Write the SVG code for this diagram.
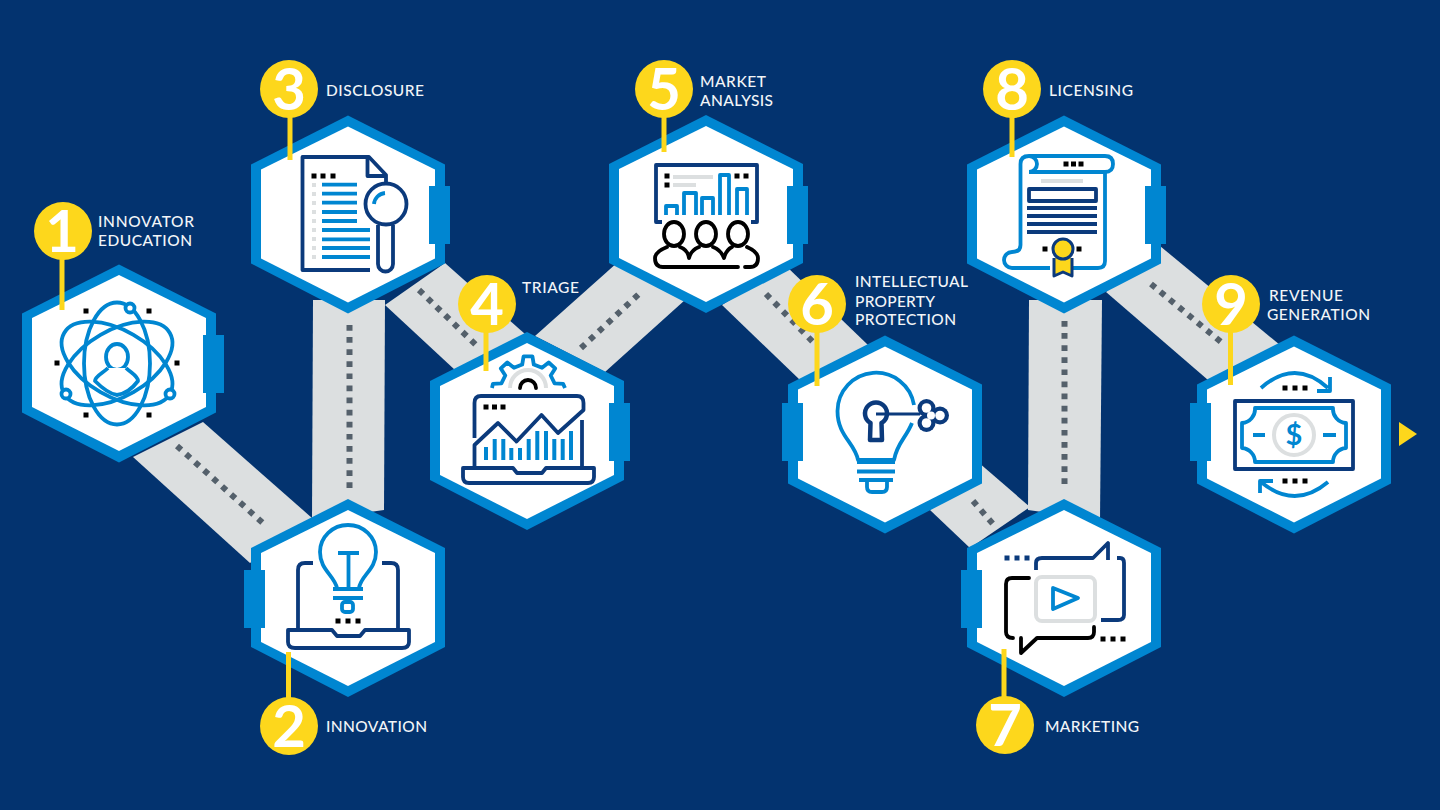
<svg xmlns="http://www.w3.org/2000/svg" width="1440" height="810" viewBox="0 0 1440 810">
<style>
.lbl{font-family:"Lato","Liberation Sans",sans-serif;font-size:15.5px;font-weight:500;fill:#f2f5f8}
.num{font-family:"Lato","Liberation Sans",sans-serif;font-size:58px;font-weight:700;fill:#fff;text-anchor:middle}
.band{fill:#dcdfe0}
.dots{stroke:#54606b;stroke-width:6;stroke-dasharray:5.7 6.4;fill:none}
.pin{stroke:#fdd71c;stroke-width:5;fill:none}
.bub{fill:#fdd71c}
.ring{fill:#0086d1}
.tab{fill:#0086d1}
.in{fill:#fff}
.b{fill:none;stroke:#0086d1;stroke-width:3.8;stroke-linejoin:round}
.n{fill:none;stroke:#0b3a7c;stroke-width:3.8;stroke-linejoin:round}
.k{fill:none;stroke:#000;stroke-width:3.8;stroke-linejoin:round;stroke-linecap:round}
.g{fill:none;stroke:#dcdfe0;stroke-width:4}
.dk{fill:#000}
.gf{fill:#dcdfe0}
</style>
<defs>
<polygon id="hexo" points="0,-99 97,-50 97,49 0,99 -97,49 -97,-50"/>
<polygon id="hexi" points="0,-88 87,-45 87,44 0,88 -87,44 -87,-45"/>
<rect id="sq" x="-2.5" y="-2.5" width="5" height="5"/>
</defs>
<rect width="1440" height="810" fill="#03336f"/>
<g id="connectors">
<polygon class="band" points="203,422 312,518 250,563 133,457"/>
<polygon class="band" points="313,300 385,300 384,510 312,520"/>
<polygon class="band" points="445,263 525,334 455,370 385,305"/>
<polygon class="band" points="535,336 618,262 685,300 605,372"/>
<polygon class="band" points="785,265 868,345 800,380 722,305"/>
<polygon class="band" points="978,462 1030,507 970,548 930,510"/>
<polygon class="band" points="1029,300 1102,300 1100,520 1028,510"/>
<polygon class="band" points="1160,246 1280,345 1208,380 1106,292"/>
<path class="dots" d="M177 446L264 524"/>
<path class="dots" d="M349.500 325V493"/>
<path class="dots" d="M419 290L476 345"/>
<path class="dots" d="M581 348L640 293"/>
<path class="dots" d="M766 294L813 342"/>
<path class="dots" d="M973 501L993 524"/>
<path class="dots" d="M1064.500 321V490"/>
<path class="dots" d="M1151 284L1221 342"/>
</g>
<g id="node1">
<use href="#hexo" x="119" y="363.5" class="ring"/><use href="#hexi" x="119" y="363" class="in"/>
<rect class="tab" x="203" y="335" width="21" height="58"/>
<path class="pin" d="M62 250V310"/><circle class="bub" cx="63" cy="231" r="29"/>
<text class="num" x="62" y="252">1</text>
<text class="lbl" x="98" y="227" textLength="96">INNOVATOR</text><text class="lbl" x="98" y="246" textLength="94">EDUCATION</text>
<g class="b"><ellipse cx="117" cy="363.500" rx="33" ry="61"/><ellipse cx="117" cy="363.500" rx="33" ry="61" transform="rotate(60 117 363.500)"/><ellipse cx="117" cy="363.500" rx="33" ry="61" transform="rotate(-60 117 363.500)"/>
<ellipse cx="117" cy="357" rx="11" ry="13" fill="#fff"/><path fill="#fff" d="M108 368C103 373 95 376 95 381C103 389 110 394 117 395C125 394 132 389 138 381C138 376 131 373 126 368"/>
<circle cx="130" cy="308" r="4.500" fill="#fff"/><circle cx="66" cy="394" r="4.500" fill="#fff"/><circle cx="170" cy="394" r="4.500" fill="#fff"/></g>
<g class="dk"><use href="#sq" x="86" y="311"/><use href="#sq" x="149" y="311"/><use href="#sq" x="57" y="363"/><use href="#sq" x="177" y="363"/><use href="#sq" x="86" y="415"/><use href="#sq" x="149" y="415"/></g>
</g>
<g id="node2">
<use href="#hexo" x="348" y="598" class="ring"/><use href="#hexi" x="348" y="598" class="in"/>
<rect class="tab" x="244" y="570" width="21" height="58"/>
<path class="pin" d="M288.500 652V705"/><circle class="bub" cx="289" cy="726" r="29"/>
<text class="num" x="289" y="747">2</text>
<text class="lbl" x="326" y="732" textLength="101">INNOVATION</text>
<g class="b"><path d="M337 588C334 575 320 570 320 552A28 27 0 1 1 376 552C376 570 361 575 359 588"/><path d="M338 553H359M348.500 553V588M333 589H363M333 598H363"/><rect x="342" y="602" width="11" height="10" rx="3"/></g>
<g class="n"><path d="M313 563H305Q298 563 298 570V630M382 563H391Q398 563 398 570V630"/><path d="M288 630H332L337 636H360L365 630H409V642Q409 648 402 648H295Q288 648 288 642Z"/></g>
<g class="dk"><use href="#sq" x="338" y="621"/><use href="#sq" x="348" y="621"/><use href="#sq" x="358" y="621"/></g>
</g>
<g id="node3">
<use href="#hexo" x="348" y="214.500" class="ring"/><use href="#hexi" x="348" y="214.500" class="in"/>
<rect class="tab" x="429" y="186" width="21" height="58"/>
<path class="pin" d="M290 110V160"/><circle class="bub" cx="289" cy="89" r="29"/>
<text class="num" x="289" y="110">3</text>
<text class="lbl" x="326" y="96" textLength="98">DISCLOSURE</text>
<g class="n"><path d="M370 270H302.500V157H369L386 175V183"/><path d="M367.500 157V176H386"/><circle cx="386" cy="204" r="20.500"/><path d="M378 225V264A7.500 7.500 0 0 0 393 264V225"/></g>
<path class="b" d="M374 204A12 12 0 0 1 385 193"/>
<g class="b"><path d="M322 184.700H357M322 193.700H357M322 202.700H357M322 212H357M322 221H357M322 230H370M322 239.300H370M322 248H370M322 257H370"/></g>
<g class="gf"><rect x="312" y="183" width="4" height="4"/><rect x="312" y="192" width="4" height="4"/><rect x="312" y="201" width="4" height="4"/><rect x="312" y="210" width="4" height="4"/><rect x="312" y="219" width="4" height="4"/><rect x="312" y="228" width="4" height="4"/><rect x="312" y="237" width="4" height="4"/><rect x="312" y="246" width="4" height="4"/><rect x="312" y="255" width="4" height="4"/></g>
<g class="dk"><use href="#sq" x="314" y="176"/><use href="#sq" x="323" y="176"/><use href="#sq" x="333" y="176"/></g>
</g>
<g id="node4">
<use href="#hexo" x="527" y="431" class="ring"/><use href="#hexi" x="527" y="431" class="in"/>
<rect class="tab" x="609" y="403" width="21" height="58"/>
<path class="pin" d="M486 325V371"/><circle class="bub" cx="487" cy="304" r="29"/>
<text class="num" x="487" y="325">4</text>
<text class="lbl" x="522" y="293" textLength="57">TRIAGE</text>
<path class="b" d="M492 388L492.900 383.900L501.400 383.300L505.300 375.500L500.800 368.400L507.300 362.500L514 367.800L522.200 364.600L523.600 356.300H532.400L533.800 364.600L542 367.800L548.700 362.500L555.200 368.400L550.700 375.500L554.600 383.300L563.100 383.900L565 388"/>
<path class="g" d="M510 388A18 18 0 0 1 546 388"/><path class="k" d="M520 388A8 8 0 0 1 536 388"/>
<g class="n"><path d="M474.500 438V403Q474.500 396 481 396H577Q583.500 396 583.500 403V410L558 433L541.500 415L516.500 441.500L498 423L474.500 445V468"/><path d="M582 420V468"/><path d="M463 468H513L517 473H542L546 468H594V477Q594 483 588 483H469Q463 483 463 477Z"/></g>
<g class="b" style="stroke-width:4"><path d="M486 447V460M494.700 439V460M503.300 439V460M511.300 448V460M520 448V460M528.700 439V460M537.300 431V460M546 431V460M554.300 439V460M562.700 439V460M571 431V460"/></g>
<g class="dk"><use href="#sq" x="486" y="407"/><use href="#sq" x="494.500" y="407"/><use href="#sq" x="503" y="407"/></g>
</g>
<g id="node5">
<use href="#hexo" x="706" y="214" class="ring"/><use href="#hexi" x="706" y="214" class="in"/>
<rect class="tab" x="787" y="186" width="21" height="58"/>
<path class="pin" d="M664 110V152"/><circle class="bub" cx="664" cy="89" r="29"/>
<text class="num" x="664" y="110">5</text>
<text class="lbl" x="700" y="87" textLength="66">MARKET</text><text class="lbl" x="700" y="106" textLength="73">ANALYSIS</text>
<path class="n" d="M662 222H656V165H757V222H751"/>
<g class="b"><path d="M666 215V206H677V215M684 215V193H696V215M702 215V198H713V215M720 215V175H729V215M737 215V189H747V215"/></g>
<path class="g" d="M673 177H713M673 185H696"/>
<g class="dk"><use href="#sq" x="667" y="176"/><use href="#sq" x="667" y="185"/><use href="#sq" x="737" y="176"/><use href="#sq" x="746" y="176"/></g>
<g class="k"><ellipse cx="674" cy="234" rx="10" ry="12"/><ellipse cx="706" cy="234" rx="10" ry="12"/><ellipse cx="738" cy="234" rx="10" ry="12"/>
<path d="M667 247Q655 252 655 258Q655 267 663 267H738M745 267H750Q758 267 758 258Q758 252 747 247M680 247Q688 250 689 258Q691 250 699 247M713 247Q721 250 724 258Q726 250 732 247"/></g>
</g>
<g id="node6">
<use href="#hexo" x="885" y="434.500" class="ring"/><use href="#hexi" x="885" y="434.500" class="in"/>
<rect class="tab" x="782" y="403" width="21" height="58"/>
<path class="pin" d="M817 325V386"/><circle class="bub" cx="817" cy="304" r="29"/>
<text class="num" x="817" y="325">6</text>
<text class="lbl" x="855" y="287" textLength="113">INTELLECTUAL</text><text class="lbl" x="855" y="307" textLength="80">PROPERTY</text><text class="lbl" x="855" y="325" textLength="101">PROTECTION</text>
<g class="b"><path d="M914 405A38.500 38.500 0 0 0 837.500 411C837.500 436 855 443 858 460H894C897 443 906 438 912 423"/><path d="M857 462H895M857 471.500H895M859 480H893"/><path d="M867 481V487Q867 492 872 492H882Q887 492 887 487V481"/></g>
<g class="n" style="stroke-width:4.500"><path d="M870.500 423A11 11 0 1 1 881.500 423L882 440H870Z"/><path d="M876 414H920" style="stroke-width:3"/></g>
<g fill="#0b3a7c"><circle cx="926.500" cy="408" r="9"/><circle cx="926.500" cy="423" r="9"/><circle cx="940" cy="415.500" r="9"/></g>
<g fill="#fff"><circle cx="926.500" cy="408" r="4.800"/><circle cx="926.500" cy="423" r="4.800"/><circle cx="940" cy="415.500" r="4.800"/><circle cx="931" cy="415.500" r="4"/></g>
</g>
<g id="node7">
<use href="#hexo" x="1064" y="598" class="ring"/><use href="#hexi" x="1064" y="598" class="in"/>
<rect class="tab" x="961" y="570" width="21" height="58"/>
<path class="pin" d="M1004 649V705"/><circle class="bub" cx="1005" cy="725" r="29"/>
<text class="num" x="1005" y="746">7</text>
<text class="lbl" x="1045" y="732" textLength="94">MARKETING</text>
<g class="n"><path d="M1036 570V563Q1036 558 1042 558H1093L1108 543V560M1117 558H1120Q1124 558 1124 563V615Q1124 620 1118 620H1101"/></g>
<rect class="g" x="1036" y="577" width="59" height="44" rx="6"/>
<path class="b" d="M1053 588L1078 598L1053 609Z"/>
<path class="k" d="M1029 578H1012Q1006 578 1006 584V632Q1006 638 1013 638M1021 638V653L1037 638H1088Q1094 638 1094 632V627"/>
<g fill="#0b3a7c"><use href="#sq" x="1007" y="558"/><use href="#sq" x="1017" y="558"/><use href="#sq" x="1027" y="558"/></g>
<g class="dk"><use href="#sq" x="1103" y="639"/><use href="#sq" x="1113" y="639"/><use href="#sq" x="1123" y="639"/></g>
</g>
<g id="node8">
<use href="#hexo" x="1064" y="214.500" class="ring"/><use href="#hexi" x="1064" y="214.500" class="in"/>
<rect class="tab" x="1145" y="186" width="21" height="58"/>
<path class="pin" d="M1012 110V157"/><circle class="bub" cx="1012" cy="89" r="29"/>
<text class="num" x="1012" y="110">8</text>
<text class="lbl" x="1049" y="96" textLength="84">LICENSING</text>
<g class="b"><path d="M1029 156Q1020.500 156 1020.500 164V245Q1020.500 252 1012 252A8 8 0 0 0 1012 268H1050M1073 268H1098Q1105 268 1105 261V172"/><path d="M1029 156H1105Q1113 156 1113 164Q1113 172 1105 172H1029M1029 156A8 8 0 0 1 1029 172"/></g>
<path class="g" d="M1041 181H1083"/>
<g class="n"><rect x="1029" y="189" width="67" height="12"/><path d="M1027 208H1097M1027 216H1097M1027 224H1097M1027 232H1097"/></g>
<path d="M1054 258V276L1063 272L1072 276V258" fill="#fdd71c" stroke="#0b3a7c" stroke-width="3" stroke-linejoin="round"/>
<circle cx="1063" cy="249" r="10" fill="#fdd71c" stroke="#0b3a7c" stroke-width="3"/>
<g class="dk"><use href="#sq" x="1045" y="249"/><use href="#sq" x="1079" y="249"/><use href="#sq" x="1066" y="164"/><use href="#sq" x="1073.500" y="164"/><use href="#sq" x="1081" y="164"/></g>
</g>
<g id="node9">
<use href="#hexo" x="1294" y="434.500" class="ring"/><use href="#hexi" x="1294" y="434.500" class="in"/>
<rect class="tab" x="1190" y="403" width="21" height="58"/>
<path class="pin" d="M1230.500 325V385"/><circle class="bub" cx="1231" cy="304" r="29"/>
<text class="num" x="1231" y="325">9</text>
<text class="lbl" x="1269" y="301" textLength="74">REVENUE</text><text class="lbl" x="1267" y="320" textLength="103">GENERATION</text>
<rect class="n" x="1235" y="401" width="118" height="68"/>
<g class="b"><path d="M1255 408H1333A14 14 0 0 0 1346 423V448A14 14 0 0 0 1333 462H1255A14 14 0 0 0 1242 448V423A14 14 0 0 0 1255 408Z"/><path d="M1253 435H1265M1323 435H1336M1261 388Q1295 358 1328 388M1330 377V391H1317M1328 482Q1295 510 1261 482M1260 493V481H1273"/></g>
<circle class="g" cx="1294" cy="435" r="20"/>
<text x="1294" y="445" text-anchor="middle" font-family="Lato,'Liberation Sans',sans-serif" font-size="29" font-weight="700" fill="#0086d1">$</text>
<g class="dk"><use href="#sq" x="1285" y="388"/><use href="#sq" x="1295" y="388"/><use href="#sq" x="1305" y="388"/><use href="#sq" x="1285" y="481"/><use href="#sq" x="1295" y="481"/><use href="#sq" x="1305" y="481"/></g>
</g>
<polygon id="next" points="1399,422 1417,434 1399,446" fill="#fdd71c"/>
</svg>
